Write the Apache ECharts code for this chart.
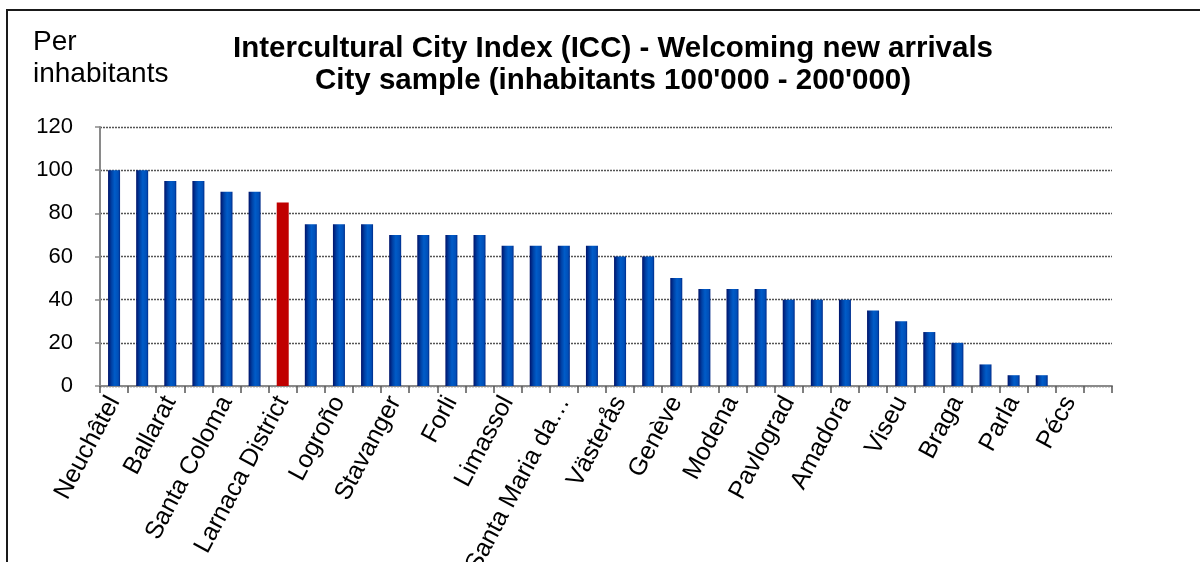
<!DOCTYPE html>
<html>
<head>
<meta charset="utf-8">
<title>Intercultural City Index (ICC) - Welcoming new arrivals</title>
<script src="https://cdn.jsdelivr.net/npm/echarts@6/dist/echarts.min.js"></script>
<style>
  html, body { margin: 0; padding: 0; background: #ffffff; }
  #chart { width: 1200px; height: 562px; }
</style>
</head>
<body>
<div id="chart"></div>
<script>
// City names; every second city is listed without a printed name on the axis
const cities = [
  'Neuchâtel', '', 'Ballarat', '', 'Santa Coloma', '', 'Larnaca District', '',
  'Logroño', '', 'Stavanger', '', 'Forli', '', 'Limassol', '',
  'Santa Maria da Feira', '', 'Västerås', '', 'Genève', '', 'Modena', '',
  'Pavlograd', '', 'Amadora', '', 'Viseu', '', 'Braga', '', 'Parla', '',
  'Pécs', ''
];

// Index score per city
const scores = [
  100, 100, 95, 95, 90, 90, 85, 75,
  75, 75, 70, 70, 70, 70, 65, 65,
  65, 65, 60, 60, 50, 45, 45, 45,
  40, 40, 40, 35, 30, 25, 20, 10,
  5, 5, 0, 0
];

// City shown in red
const highlightIndex = 6;

const yTicks = { min: 0, max: 120, step: 20 };

const titleLines = [
  'Intercultural City Index (ICC) - Welcoming new arrivals',
  "City sample (inhabitants 100'000 - 200'000)"
];
const unitLabel = 'Per\ninhabitants';

const FONT = '"Liberation Sans", Arial, sans-serif';

const blueBar = {
  type: 'linear', x: 0, y: 0, x2: 1, y2: 0,
  colorStops: [
    { offset: 0, color: '#00136a' },
    { offset: 0.3, color: '#0042a6' },
    { offset: 0.55, color: '#005cc8' },
    { offset: 0.85, color: '#004fb8' },
    { offset: 1, color: '#002a88' }
  ]
};

const barData = scores.map((v, i) => i === highlightIndex
  ? { value: v, itemStyle: { color: '#c00000' } }
  : { value: v });

function shorten(name) {
  return name.length > 16 ? name.slice(0, 14) + '…' : name;
}

const chart = echarts.init(document.getElementById('chart'), null, { renderer: 'canvas' });

chart.setOption({
  animation: false,
  backgroundColor: '#ffffff',
  textStyle: { fontFamily: FONT },
  graphic: [{
    type: 'rect',
    shape: { x: 7, y: 10, width: 1400, height: 800 },
    style: { fill: 'none', stroke: '#1a1a1a', lineWidth: 2 },
    silent: true
  }],
  title: [{
    text: titleLines.join('\n'),
    left: 613,
    top: 33,
    padding: 0,
    textAlign: 'center',
    textStyle: {
      fontFamily: FONT, fontSize: 29.5, fontWeight: 'bold',
      color: '#000', lineHeight: 32
    }
  }, {
    text: unitLabel,
    left: 33,
    top: 26,
    padding: 0,
    textStyle: {
      fontFamily: FONT, fontSize: 28, fontWeight: 'normal',
      color: '#000', lineHeight: 32
    }
  }],
  grid: {
    left: 100, right: 88, top: 127, bottom: 176,
    containLabel: false,
    outerBoundsMode: 'none'
  },
  xAxis: {
    type: 'category',
    data: cities,
    boundaryGap: true,
    axisLine: { show: true, lineStyle: { color: '#8a8a8a', width: 2 } },
    axisTick: {
      show: true, interval: 0, length: 7,
      lineStyle: { color: '#555', width: 1.5 }
    },
    axisLabel: {
      interval: 1,
      rotate: 62,
      margin: 12,
      fontFamily: FONT,
      fontSize: 25,
      color: '#000',
      formatter: shorten
    },
    splitLine: { show: false }
  },
  yAxis: {
    type: 'value',
    min: yTicks.min,
    max: yTicks.max,
    interval: yTicks.step,
    axisLine: { show: true, lineStyle: { color: '#8a8a8a', width: 2 } },
    axisTick: { show: true, inside: false, length: 5, lineStyle: { color: '#8a8a8a', width: 1.5 } },
    axisLabel: {
      margin: 27,
      fontFamily: FONT,
      fontSize: 22,
      color: '#000'
    },
    splitLine: {
      show: true,
      lineStyle: { color: '#555', width: 1.3, type: [2, 1] }
    }
  },
  series: [{
    type: 'bar',
    data: barData,
    barWidth: 12,
    itemStyle: { color: blueBar }
  }]
});
</script>
</body>
</html>
